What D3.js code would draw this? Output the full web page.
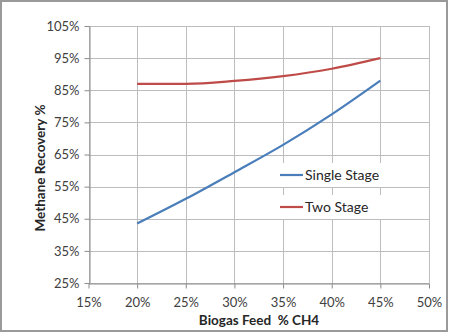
<!DOCTYPE html>
<html><head><meta charset="utf-8">
<script src="https://cdn.jsdelivr.net/npm/d3@7"></script>
<style>body{margin:0;background:#fff;}svg{display:block;font-family:Lato,"Open Sans",sans-serif;}</style>
</head><body>
<svg id="c" width="449" height="333"></svg>
<script>
const feed = [0.20, 0.25, 0.30, 0.35, 0.40, 0.45];
const singleStage = [0.435, 0.512, 0.595, 0.68, 0.775, 0.88];
const twoStage = [0.87, 0.87, 0.879, 0.894, 0.917, 0.95];
const xTicks = [0.15, 0.20, 0.25, 0.30, 0.35, 0.40, 0.45, 0.50];
const yTicks = [0.25, 0.35, 0.45, 0.55, 0.65, 0.75, 0.85, 0.95, 1.05];
const seriesNames = ["Single Stage", "Two Stage"];
const colors = ["#4A7EBB", "#BE4B48"];

const svg = d3.select("#c");
svg.append("rect").attr("x",1).attr("y",1).attr("width",446).attr("height",330)
  .attr("fill","#fff").attr("stroke","#9a9a9a").attr("stroke-width",2);

const x = d3.scaleLinear().domain([0.15,0.50]).range([88.5,429]);
const y = d3.scaleLinear().domain([0.25,1.05]).range([283,26]);
const fmt = d3.format(".0%");
const grid = "#bdbdbd";

svg.append("g").selectAll("line").data(yTicks).join("line")
  .attr("x1",x(0.15)).attr("x2",x(0.50)).attr("y1",d=>Math.round(y(d))+0.5).attr("y2",d=>Math.round(y(d))+0.5)
  .attr("stroke",grid);
svg.append("g").selectAll("line").data(xTicks).join("line")
  .attr("y1",y(0.25)).attr("y2",y(1.05)).attr("x1",d=>Math.round(x(d))+0.5).attr("x2",d=>Math.round(x(d))+0.5)
  .attr("stroke",grid);

const xAxis = svg.append("g").attr("transform",`translate(0,${Math.round(y(0.25))+0.5})`)
  .call(d3.axisBottom(x).tickValues(xTicks).tickFormat(fmt).tickSize(5).tickSizeOuter(0));
const yAxis = svg.append("g").attr("transform",`translate(${Math.round(x(0.15))+0.5},0)`)
  .call(d3.axisLeft(y).tickValues(yTicks).tickFormat(fmt).tickSize(5).tickSizeOuter(0));
[xAxis,yAxis].forEach(a=>{
  a.selectAll("path").attr("stroke","#8c8c8c");
  a.selectAll("line").attr("stroke","#8c8c8c");
  a.selectAll("text").attr("fill","#404040").style("font-size","13px").style("font-family","Lato,'Open Sans',sans-serif");
});
xAxis.selectAll("text").attr("y",0).attr("dy",0).attr("transform","translate(0,23)");
yAxis.selectAll("text").attr("x",-10);

const line = d3.line().x(d=>x(d[0])).y(d=>y(d[1])).curve(d3.curveMonotoneX);
[singleStage, twoStage].forEach((s,i)=>{
  svg.append("path").datum(feed.map((f,j)=>[f,s[j]])).attr("d",line)
    .attr("fill","none").attr("stroke",colors[i]).attr("stroke-width",2.2);
});

const leg = svg.append("g");
seriesNames.forEach((n,i)=>{
  const ly = 175 + i*32;
  leg.append("rect").attr("x",276).attr("y",ly-12).attr("width",110).attr("height",24).attr("fill","#fff");
  leg.append("line").attr("x1",280).attr("x2",303).attr("y1",ly).attr("y2",ly).attr("stroke",colors[i]).attr("stroke-width",2.2);
  leg.append("text").attr("x",305).attr("y",ly).attr("dy","0.35em").text(n)
    .attr("fill","#262626").style("font-size","14px");
});

svg.append("text").attr("x",259).attr("y",325).attr("text-anchor","middle")
  .style("font-size","13.5px").style("font-weight","bold").attr("fill","#262626").style("white-space","pre").text("Biogas Feed  % CH4");
svg.append("text").attr("transform","translate(45,168) rotate(-90)").attr("text-anchor","middle")
  .style("font-size","13.5px").style("font-weight","bold").attr("fill","#262626").text("Methane Recovery %");
</script>
</body></html>
